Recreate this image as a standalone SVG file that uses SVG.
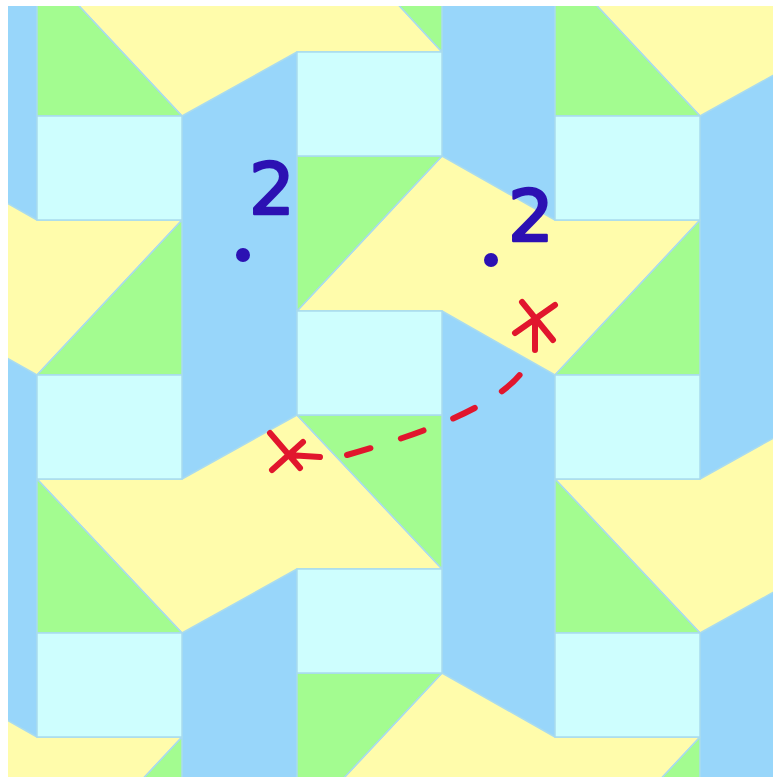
<svg xmlns="http://www.w3.org/2000/svg" width="773" height="777" viewBox="0 0 773 777">
<defs>
<style>
.y{fill:#fffcab;stroke:#a9dbee;stroke-width:1.5;stroke-linejoin:round}
.g{fill:#a3fc90;stroke:#a9dbee;stroke-width:1.5;stroke-linejoin:round}
.c{fill:#cefefe;stroke:#a9dbee;stroke-width:1.5}
.red{fill:none;stroke:#e1162d;stroke-width:6;stroke-linecap:round}
.num{font-family:"DejaVu Sans",sans-serif;font-weight:normal;font-size:72px;fill:#2c11b3;stroke:#2c11b3;stroke-width:2.5;stroke-linejoin:round}
</style>
<clipPath id="area"><rect x="8" y="6" width="765" height="771"/></clipPath>
</defs>
<rect width="773" height="777" fill="#ffffff"/>
<g id="pattern" clip-path="url(#area)">
<rect x="0" y="0" width="773" height="777" fill="#98d6fa"/>
<g id="yellow">
<polygon class="y" points="37,-39 182,-39 297,-105 442,52 297,52 182,116"/>
<polygon class="y" points="37,479 182,479 297,415 442,569 297,569 182,633"/>
<polygon class="y" points="555,-39 700,-39 815,-105 960,52 815,52 700,116"/>
<polygon class="y" points="555,479 700,479 815,415 960,569 815,569 700,633"/>
<polygon class="y" points="-221,311 -76,156 37,220 182,220 37,375 -76,311"/>
<polygon class="y" points="-221,828 -76,673 37,737 182,737 37,892 -76,828"/>
<polygon class="y" points="297,311 442,156 555,220 700,220 555,375 442,311"/>
<polygon class="y" points="297,828 442,673 555,737 700,737 555,892 442,828"/>
</g>
<g id="green">
<polygon class="g" points="37,-39 37,116 182,116"/>
<polygon class="g" points="37,479 37,633 182,633"/>
<polygon class="g" points="555,-39 555,116 700,116"/>
<polygon class="g" points="555,479 555,633 700,633"/>
<polygon class="g" points="182,220 182,375 37,375"/>
<polygon class="g" points="182,737 182,892 37,892"/>
<polygon class="g" points="700,220 700,375 555,375"/>
<polygon class="g" points="700,737 700,892 555,892"/>
<polygon class="g" points="297,-105 442,-105 442,52"/>
<polygon class="g" points="297,415 442,415 442,569"/>
<polygon class="g" points="297,156 442,156 297,311"/>
<polygon class="g" points="297,673 442,673 297,828"/>
</g>
<g id="rects">
<rect class="c" x="37" y="116" width="145" height="104"/>
<rect class="c" x="37" y="375" width="145" height="104"/>
<rect class="c" x="37" y="633" width="145" height="104"/>
<rect class="c" x="555" y="116" width="145" height="104"/>
<rect class="c" x="555" y="375" width="145" height="104"/>
<rect class="c" x="555" y="633" width="145" height="104"/>
<rect class="c" x="297" y="52" width="145" height="104"/>
<rect class="c" x="297" y="311" width="145" height="104"/>
<rect class="c" x="297" y="569" width="145" height="104"/>
</g>
</g>
<g id="label-left">
<text class="num" x="249" y="214">2</text>
<circle cx="243" cy="255" r="7" fill="#2c11b3"/>
</g>
<g id="label-right">
<text class="num" x="508" y="241">2</text>
<circle cx="491" cy="260" r="7" fill="#2c11b3"/>
</g>
<g id="connectors">
<path class="red" d="M347,455 Q490,415 522,372" stroke-width="7" stroke-dasharray="24 32"/>
</g>
<g id="mark-right">
<path class="red" d="M522,302 L553,340 M555,305 L515,333 M535,323 L535,350"/>
</g>
<g id="mark-left">
<path class="red" d="M270,433 L300,468 M303,442 L272,470 M288,455 L320,457"/>
</g>
</svg>
